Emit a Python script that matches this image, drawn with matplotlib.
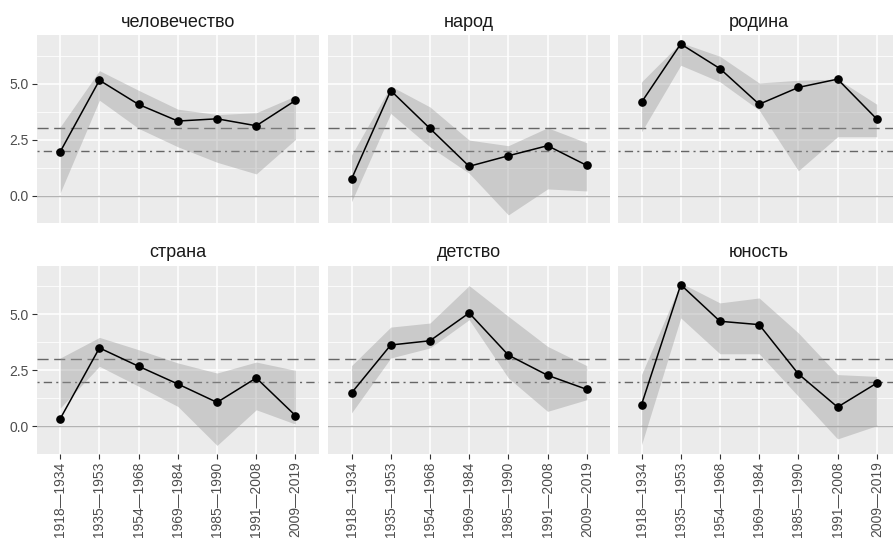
import numpy as np
import matplotlib.pyplot as plt

plt.rcParams['font.family'] = ['Liberation Sans', 'DejaVu Sans']

periods = ['1918—1934', '1935—1953', '1954—1968', '1969—1984',
           '1985—1990', '1991—2008', '2009—2019']
words = ['человечество', 'народ', 'родина', 'страна', 'детство', 'юность']

# mean values and ribbon bounds for every word
mean = {
    'человечество': [1.96, 5.15, 4.07, 3.33, 3.43, 3.12, 4.25],
    'народ':        [0.74, 4.69, 3.00, 1.31, 1.78, 2.23, 1.35],
    'родина':       [4.17, 6.77, 5.67, 4.08, 4.83, 5.20, 3.42],
    'страна':       [0.34, 3.50, 2.68, 1.89, 1.07, 2.16, 0.48],
    'детство':      [1.49, 3.63, 3.82, 5.06, 3.18, 2.28, 1.65],
    'юность':       [0.97, 6.32, 4.69, 4.54, 2.34, 0.86, 1.93],
}
upper = {
    'человечество': [3.07, 5.58, 4.70, 3.86, 3.62, 3.70, 4.45],
    'народ':        [1.81, 4.89, 3.96, 2.48, 2.23, 3.03, 2.36],
    'родина':       [5.08, 6.83, 6.22, 5.03, 5.15, 5.20, 4.08],
    'страна':       [3.05, 3.97, 3.42, 2.83, 2.38, 2.87, 2.50],
    'детство':      [2.71, 4.43, 4.61, 6.28, 4.91, 3.57, 2.71],
    'юность':       [2.31, 6.40, 5.51, 5.73, 4.17, 2.31, 2.23],
}
lower = {
    'человечество': [0.13, 4.26, 3.00, 2.18, 1.49, 0.97, 2.51],
    'народ':        [-0.27, 3.67, 2.18, 1.00, -0.86, 0.30, 0.21],
    'родина':       [2.85, 5.82, 5.08, 3.82, 1.11, 2.63, 2.63],
    'страна':       [0.82, 2.68, 1.79, 0.89, -0.85, 0.74, 0.10],
    'детство':      [0.60, 3.05, 3.50, 4.76, 2.16, 0.67, 1.19],
    'юность':       [-0.82, 4.84, 3.24, 3.24, 1.34, -0.56, 0.03],
}

W, H = 893, 543
fig = plt.figure(figsize=(W / 100, H / 100), dpi=100)

lefts = [36.7, 328, 618]
tops = [35, 265.7]
pw, ph = 282.3, 188

x = np.arange(len(periods))
for i, w in enumerate(words):
    r, c = divmod(i, 3)
    ax = fig.add_axes([lefts[c] / W, 1 - (tops[r] + ph) / H, pw / W, ph / H])
    ax.set_facecolor('#EBEBEB')
    for s in ax.spines.values():
        s.set_visible(False)
    ax.set_axisbelow(True)
    ax.set_xticks(x)
    ax.set_yticks([0, 2.5, 5.0])
    ax.set_yticks([-1.25, 1.25, 3.75, 6.25], minor=True)
    ax.grid(which='major', color='white', lw=1.1)
    ax.grid(which='minor', axis='y', color='white', lw=0.55)
    ax.tick_params(which='minor', length=0)
    ax.tick_params(which='major', length=3.5, width=0.8, color='#333333',
                   labelcolor='#4D4D4D', labelsize=10, pad=2)

    ax.axhline(0, color='#B3B3B3', lw=1.0, zorder=1)
    ax.axhline(3, color='#666666', lw=1.0, ls=(0, (8, 4)), zorder=1)
    ax.axhline(2, color='#666666', lw=1.0, ls=(0, (1.5, 3, 6, 3)), zorder=1)
    ax.fill_between(x, lower[w], upper[w], color='#999999', alpha=0.4,
                    lw=0, zorder=2)
    ax.plot(x, mean[w], color='black', lw=1.1, marker='o', ms=5.2, zorder=3)

    ax.set_xlim(-0.6, 6.6)
    ax.set_ylim(-1.22, 7.17)
    ax.set_title(w, fontsize=13, color='#1A1A1A', pad=6)

    if r == 1:
        ax.set_xticklabels(periods, rotation=90)
    else:
        ax.set_xticklabels([])
    if c == 0:
        ax.set_yticklabels(['0.0', '2.5', '5.0'])
    else:
        ax.set_yticklabels([])
        ax.tick_params(axis='y', length=0)
    if r == 0:
        ax.tick_params(axis='x', length=0)

fig.savefig('out.png', dpi=100)
